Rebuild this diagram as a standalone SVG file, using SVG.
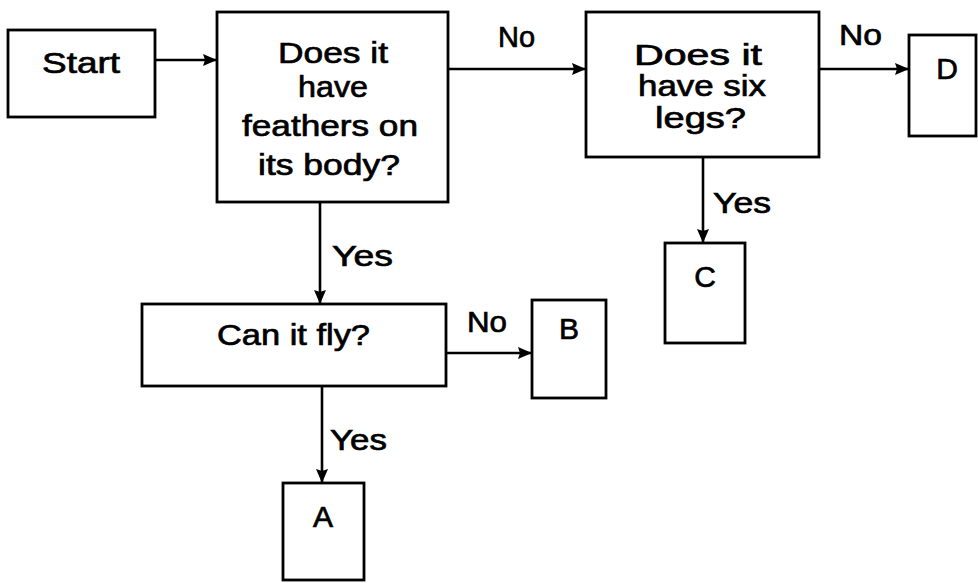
<svg xmlns="http://www.w3.org/2000/svg" width="978" height="583" viewBox="0 0 978 583">
<style>
.box{fill:#fff;stroke:#000;stroke-width:2.8}
.ln{fill:none;stroke:#000;stroke-width:2.6}
text{font-family:"Liberation Sans",Arial,sans-serif;font-size:30px;fill:#000;stroke:#000;stroke-width:0.7}
.c{text-anchor:middle}
</style>
<defs>
<marker id="ah" viewBox="0 0 14 12" refX="14" refY="6" markerWidth="14" markerHeight="12" markerUnits="userSpaceOnUse" orient="auto">
<path d="M0,0 L14,6 L0,12 L2,6 Z" fill="#000"/>
</marker>
</defs>
<rect width="978" height="583" fill="#fff"/>
<g id="connectors">
<line class="ln" x1="155" y1="60" x2="217" y2="60" marker-end="url(#ah)"/>
<line class="ln" x1="448" y1="69" x2="586" y2="69" marker-end="url(#ah)"/>
<line class="ln" x1="819" y1="69" x2="909" y2="69" marker-end="url(#ah)"/>
<line class="ln" x1="320" y1="202" x2="320" y2="304" marker-end="url(#ah)"/>
<line class="ln" x1="703" y1="157" x2="703" y2="243" marker-end="url(#ah)"/>
<line class="ln" x1="446" y1="353" x2="532" y2="353" marker-end="url(#ah)"/>
<line class="ln" x1="322" y1="386" x2="322" y2="483" marker-end="url(#ah)"/>
<text x="498" y="47" textLength="37" lengthAdjust="spacingAndGlyphs">No</text>
<text x="839" y="45" textLength="43" lengthAdjust="spacingAndGlyphs">No</text>
<text x="467" y="332" textLength="40" lengthAdjust="spacingAndGlyphs">No</text>
<text x="332" y="266" textLength="61" lengthAdjust="spacingAndGlyphs">Yes</text>
<text x="713" y="213" textLength="58" lengthAdjust="spacingAndGlyphs">Yes</text>
<text x="330" y="450" textLength="57" lengthAdjust="spacingAndGlyphs">Yes</text>
</g>
<g id="start">
<rect class="box" x="8" y="30" width="147" height="87"/>
<text x="42" y="73" textLength="78" lengthAdjust="spacingAndGlyphs">Start</text>
</g>
<g id="q-feathers">
<rect class="box" x="217" y="12" width="231" height="190"/>
<text x="278" y="63" textLength="110" lengthAdjust="spacingAndGlyphs">Does it</text>
<text x="298" y="97" textLength="70" lengthAdjust="spacingAndGlyphs">have</text>
<text x="242" y="136" textLength="176" lengthAdjust="spacingAndGlyphs">feathers on</text>
<text x="258" y="175" textLength="142" lengthAdjust="spacingAndGlyphs">its body?</text>
</g>
<g id="q-legs">
<rect class="box" x="586" y="12" width="233" height="145"/>
<text x="634" y="65" textLength="128" lengthAdjust="spacingAndGlyphs">Does it</text>
<text x="638" y="96" textLength="128" lengthAdjust="spacingAndGlyphs">have six</text>
<text x="655" y="128" textLength="91" lengthAdjust="spacingAndGlyphs">legs?</text>
</g>
<g id="q-fly">
<rect class="box" x="142" y="304" width="304" height="82"/>
<text x="217" y="345" textLength="153" lengthAdjust="spacingAndGlyphs">Can it fly?</text>
</g>
<g id="node-a">
<rect class="box" x="283" y="483" width="81" height="97"/>
<text class="c" x="323" y="527">A</text>
</g>
<g id="node-b">
<rect class="box" x="532" y="300" width="74" height="98"/>
<text class="c" x="569" y="339">B</text>
</g>
<g id="node-c">
<rect class="box" x="665" y="243" width="80" height="100"/>
<text class="c" x="705" y="287">C</text>
</g>
<g id="node-d">
<rect class="box" x="909" y="35" width="67" height="101"/>
<text class="c" x="947" y="79">D</text>
</g>
</svg>
